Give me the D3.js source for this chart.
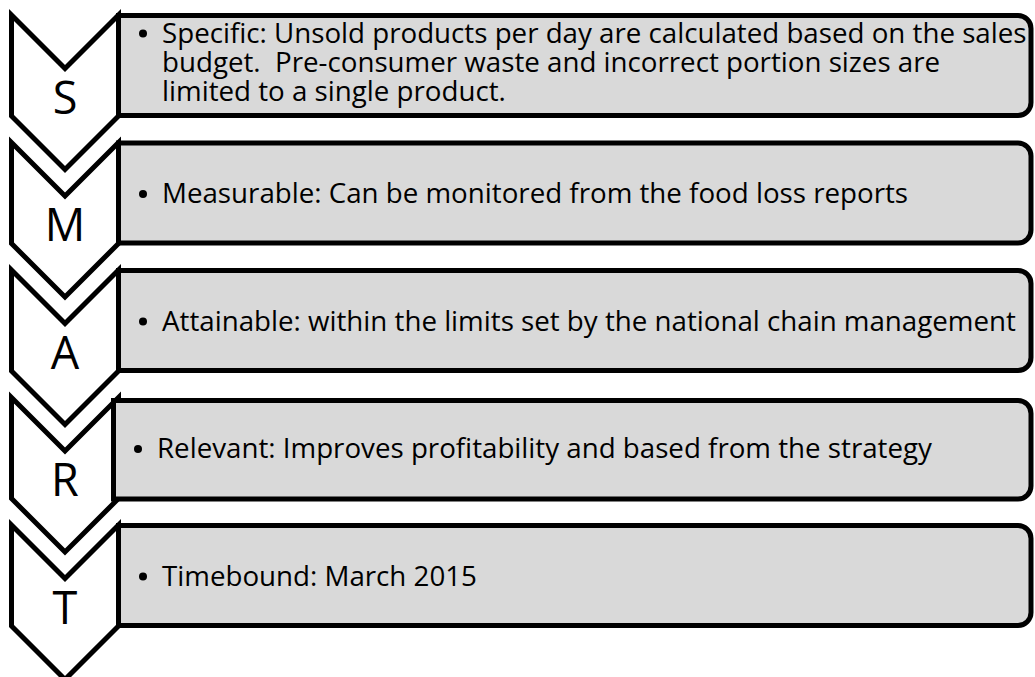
<!DOCTYPE html>
<html>
<head>
<meta charset="utf-8">
<script src="https://cdn.jsdelivr.net/npm/d3@7"></script>
<style>
  body { margin: 0; background: #fff; }
  svg { display: block; }
  text { white-space: pre; }
</style>
</head>
<body>
<div id="chart"></div>
<script>
// SMART steps
var letters = ['S', 'M', 'A', 'R', 'T'];
var items = [
  ['Specific: Unsold products per day are calculated based on the sales',
   'budget.  Pre-consumer waste and incorrect portion sizes are',
   'limited to a single product.'],
  ['Measurable: Can be monitored from the food loss reports'],
  ['Attainable: within the limits set by the national chain management'],
  ['Relevant: Improves profitability and based from the strategy'],
  ['Timebound: March 2015']
];

var width = 1035, height = 677;
var fontFamily = '"Open Sans", "Noto Sans", sans-serif';

var svg = d3.select('#chart')
  .append('svg')
  .attr('width', width)
  .attr('height', height);

// row layout
var y = d3.scaleBand()
  .domain(letters)
  .range([15, 15 + 5 * 127.5])
  .paddingInner(0);

var chevL = 11.5, chevR = 118.5, chevMid = (chevL + chevR) / 2;
var half = (chevR - chevL) / 2;
var sideH = 101;
var boxR = 1031, radius = 13;
var lineGap = 29;
var shift = { R: -5 }; // the R box sits a bit to the left in the original

// fit body text size so the longest lines end where the original does
var probe = svg.append('text').style('font-family', fontFamily).style('font-size', '100px');
var natA = probe.text(items[2][0]).node().getComputedTextLength();
var natS = probe.text(items[0][0]).node().getComputedTextLength();
probe.remove();
var bodySize = Math.min(100 * (1025 - 162) / natA, 100 * (1027 - 162) / natS);

var rows = svg.selectAll('.row')
  .data(letters)
  .enter().append('g')
  .attr('class', 'row');

// chevrons
rows.append('path')
  .attr('d', function(d) {
    var y0 = y(d);
    return 'M' + chevL + ',' + y0 +
      'L' + chevMid + ',' + (y0 + half) +
      'L' + chevR + ',' + y0 +
      'L' + chevR + ',' + (y0 + sideH) +
      'L' + chevMid + ',' + (y0 + sideH + half) +
      'L' + chevL + ',' + (y0 + sideH) + 'Z';
  })
  .style('fill', '#fff')
  .style('stroke', '#000')
  .style('stroke-width', 5)
  .style('stroke-linejoin', 'miter');

rows.append('text')
  .attr('x', chevMid)
  .attr('y', function(d) { return y(d) + 98.5; })
  .attr('text-anchor', 'middle')
  .style('font-family', fontFamily)
  .style('font-size', '45px')
  .style('fill', '#000')
  .text(function(d) { return d; });

// boxes, square on the left, rounded on the right
rows.append('path')
  .attr('d', function(d) {
    var x0 = chevR + (shift[d] || 0);
    var y0 = y(d) + 0.5 + (shift[d] ? 2.5 : 0), y1 = y(d) + 100.5 + (shift[d] ? 1 : 0);
    var p = d3.path();
    p.moveTo(x0, y0);
    p.lineTo(boxR - radius, y0);
    p.arcTo(boxR, y0, boxR, y0 + radius, radius);
    p.lineTo(boxR, y1 - radius);
    p.arcTo(boxR, y1, boxR - radius, y1, radius);
    p.lineTo(x0, y1);
    p.closePath();
    return p.toString();
  })
  .style('fill', '#d9d9d9')
  .style('stroke', '#000')
  .style('stroke-width', 5);

// bullets and text (one text element per box, lines as tspans)
rows.each(function(d, i) {
  var g = d3.select(this);
  var lines = items[i];
  var dx = shift[d] || 0;
  var cy = y(d) + 50.5;
  var off = lines.length === 1 ? 10 : 6;
  var firstBase = cy + off - (lines.length - 1) / 2 * lineGap;

  g.append('circle')
    .attr('cx', 143 + dx)
    .attr('cy', firstBase - 9)
    .attr('r', 4)
    .style('fill', '#000');

  var txt = g.append('text')
    .style('font-family', fontFamily)
    .style('font-size', bodySize + 'px')
    .style('fill', '#000');

  txt.selectAll('tspan')
    .data(lines)
    .enter().append('tspan')
    .attr('x', 162 + dx)
    .attr('y', function(line, j) { return firstBase + j * lineGap; })
    .text(function(line) { return line; });
});
</script>
</body>
</html>
